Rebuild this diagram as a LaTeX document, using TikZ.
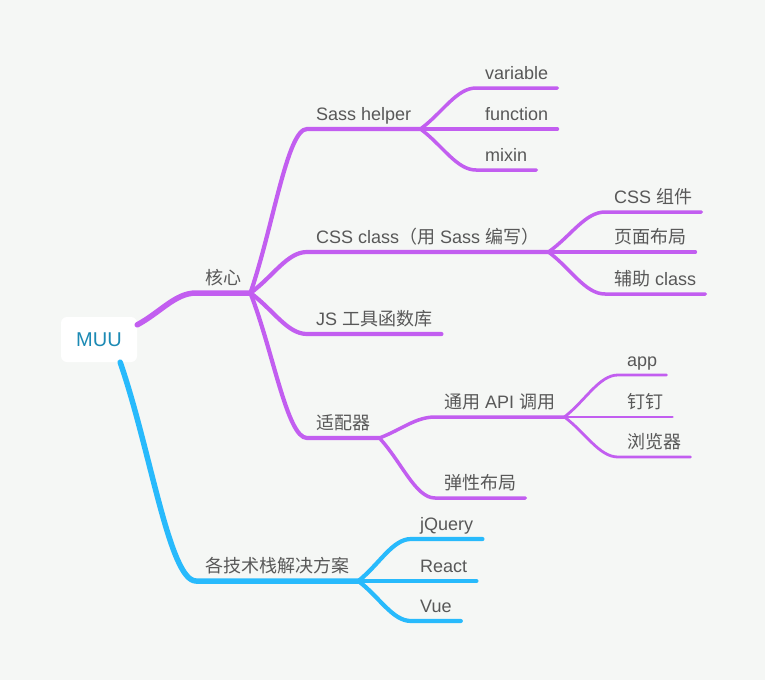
\documentclass[tikz,border=0pt]{standalone}
\usepackage{fontspec}
\setmainfont{Liberation Sans}
\newfontfamily\cjk{Noto Sans CJK SC}
\usepackage{tikz}
\usetikzlibrary{calc}
\definecolor{bgpaper}{RGB}{245,247,245}
\definecolor{mmpurple}{RGB}{194,94,240}
\definecolor{mmblue}{RGB}{40,186,252}
\definecolor{textgray}{RGB}{88,88,88}
\definecolor{rootteal}{RGB}{28,138,180}

\begin{document}
\begin{tikzpicture}[
      x=1pt, y=-1pt,
      root/.style={fill=white, rounded corners=6pt, minimum width=76pt, minimum height=45pt,
        inner sep=0pt, font=\fontsize{20}{24}\selectfont, text=rootteal},
      topic/.style={anchor=south west, inner xsep=9pt, inner ysep=0pt, text height=13pt,
        text depth=8pt, font=\fontsize{18}{22}\selectfont, text=textgray},
      lvl1/.style={line width=5.5pt, line cap=round, line join=round},
      lvl2/.style={line width=4.2pt, line cap=round, line join=round},
      lvl3/.style={line width=3.5pt, line cap=round, line join=round},
      lvl4/.style={line width=2.8pt, line cap=round, line join=round},
      curvy/.style={to path={.. controls ($(\tikztostart)!0.4!(\tikztotarget)$)
        and ($(\tikztotarget)!0.35!(\tikztostart |- \tikztotarget)$) .. (\tikztotarget)}}
    ]
      \fill[bgpaper] (0,0) rectangle (765,680);
      % topics
      \node[root] (muu) at (99,339.5) {MUU};
      \node[topic] (hexin) at (196,293) {\cjk 核心};
      \node[topic] (jiejue) at (196,581) {\cjk 各技术栈解决方案};
      \node[topic] (sass) at (307,129) {Sass helper};
      \node[topic] (cssclass) at (307,252) {CSS class{\cjk （用} Sass {\cjk 编写）}};
      \node[topic] (jslib) at (307,334) {JS {\cjk 工具函数库}};
      \node[topic] (adapter) at (307,438) {\cjk 适配器};
      \node[topic] (variable) at (476,88) {variable};
      \node[topic] (function) at (476,129) {function};
      \node[topic] (mixin) at (476,170) {mixin};
      \node[topic] (csscomp) at (605,212) {CSS {\cjk 组件}};
      \node[topic] (layout) at (605,252) {\cjk 页面布局};
      \node[topic] (helper) at (605,294) {{\cjk 辅助} class};
      \node[topic] (api) at (435,417) {{\cjk 通用} API {\cjk 调用}};
      \node[topic] (flex) at (435,498) {\cjk 弹性布局};
      \node[topic] (app) at (618,375) {app};
      \node[topic] (dingding) at (618,417) {\cjk 钉钉};
      \node[topic] (browser) at (618,457) {\cjk 浏览器};
      \node[topic] (jquery) at (411,539) {jQuery};
      \node[topic] (react) at (411,581) {React};
      \node[topic] (vue) at (411,621) {Vue};
      % branches
      \draw[lvl1, mmpurple] (muu.21) to[curvy] (hexin.south west) -- (hexin.south east);
      \draw[lvl1, mmblue] (muu.-47) to[curvy] (jiejue.south west) -- (jiejue.south east);
      \foreach \n in {sass, cssclass, jslib, adapter}
        \draw[lvl2, mmpurple] (hexin.south east) to[curvy] (\n.south west) -- (\n.south east);
      \foreach \n in {variable, function, mixin}
        \draw[lvl3, mmpurple] (sass.south east) to[curvy] (\n.south west) -- (\n.south east);
      \foreach \n in {csscomp, layout, helper}
        \draw[lvl3, mmpurple] (cssclass.south east) to[curvy] (\n.south west) -- (\n.south east);
      \foreach \n in {api, flex}
        \draw[lvl3, mmpurple] (adapter.south east) to[curvy] (\n.south west) -- (\n.south east);
      \foreach \n in {app, dingding, browser}
        \draw[lvl4, mmpurple] (api.south east) to[curvy] (\n.south west) -- (\n.south east);
      \foreach \n in {jquery, react, vue}
        \draw[lvl2, mmblue] (jiejue.south east) to[curvy] (\n.south west) -- (\n.south east);
    \end{tikzpicture}
\end{document}
